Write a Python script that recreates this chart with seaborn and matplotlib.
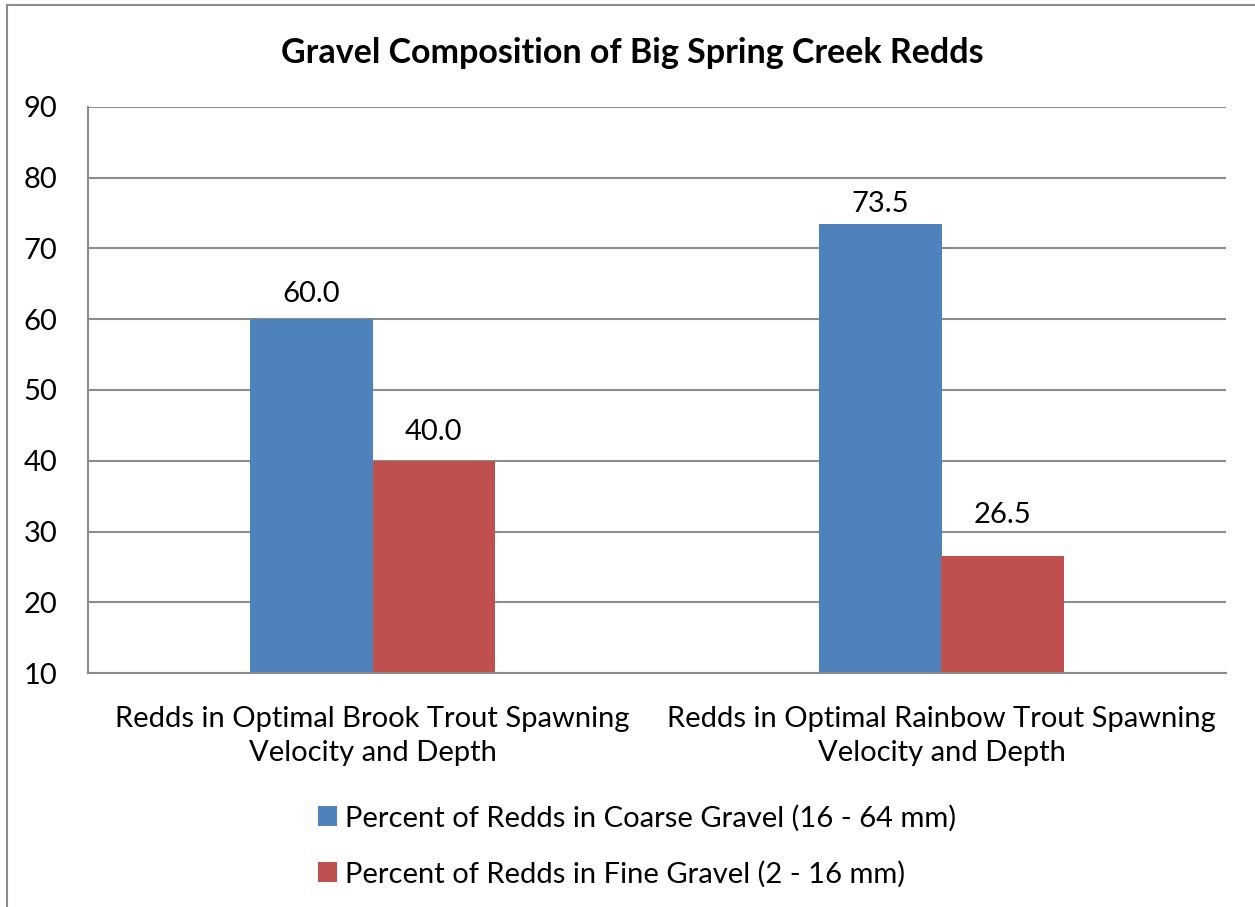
import matplotlib
matplotlib.use("Agg")
import matplotlib.pyplot as plt
import seaborn as sns
import pandas as pd
from matplotlib.patches import Patch
from matplotlib.lines import Line2D

categories = ["Redds in Optimal Brook Trout Spawning\nVelocity and Depth",
              "Redds in Optimal Rainbow Trout Spawning\nVelocity and Depth"]
series_names = ["Percent of Redds in Coarse Gravel (16 - 64 mm)",
                "Percent of Redds in Fine Gravel (2 - 16 mm)"]
coarse = [60.0, 73.5]
fine = [40.0, 26.5]
colors = ["#4F81BD", "#C0504D"]
title = "Gravel Composition of Big Spring Creek Redds"

df = pd.DataFrame({
    "category": categories * 2,
    "series": [series_names[0]] * 2 + [series_names[1]] * 2,
    "value": coarse + fine,
})

sns.set_theme(style="white")
plt.rcParams['font.family'] = ['Lato', 'DejaVu Sans']
plt.rcParams['text.color'] = 'black'
plt.rcParams['xtick.color'] = 'black'
plt.rcParams['ytick.color'] = 'black'
plt.rcParams['xtick.labelcolor'] = 'black'
plt.rcParams['ytick.labelcolor'] = 'black'

fig = plt.figure(figsize=(12.55, 9.07), dpi=100)
ax = fig.add_axes([88/1255, 1-673/907, (1226-88)/1255, (673-107)/907])

sns.barplot(data=df, x="category", y="value", hue="series", palette=colors,
            width=0.43, gap=0, ax=ax, legend=False, saturation=1,
            edgecolor="none", linewidth=0)

# bars start at the axis minimum (10)
for p in ax.patches:
    h = p.get_height()
    p.set_y(10)
    p.set_height(h - 10)

# label offsets (points) as placed in the original chart
label_pads = [[9, 5], [11, 20]]
for cont, vals, pads in zip(ax.containers, [coarse, fine], label_pads):
    for bar, v, pad in zip(cont.patches, vals, pads):
        ax.annotate(f"{v:.1f}", (bar.get_x() + bar.get_width() / 2, bar.get_y() + bar.get_height()),
                    xytext=(0, pad), textcoords="offset points", ha="center", va="bottom",
                    fontsize=21, color="black")

ax.set_ylim(10, 90)
ax.set_yticks(range(10, 91, 10))
ax.yaxis.grid(True, color="#8C8C8C", linewidth=1.5)
ax.set_axisbelow(True)
for s in ["top", "right"]:
    ax.spines[s].set_visible(False)
for s in ["left", "bottom"]:
    ax.spines[s].set_color("#8C8C8C")
    ax.spines[s].set_linewidth(1.5)
ax.tick_params(axis="y", length=0, pad=22, labelsize=21)
ax.tick_params(axis="x", length=0, pad=24, labelsize=21)
for t in ax.get_xticklabels():
    t.set_linespacing(1.37)
ax.set_xlabel("")
ax.set_ylabel("")

fig.text(632/1255, 1-53/907, title, ha="center", va="center", fontsize=24.5,
         fontweight="bold", color="black")

handles = [Patch(facecolor=c, edgecolor="none") for c in colors]
fig.legend(handles, series_names, loc="center", bbox_to_anchor=(637/1255, 1-846/907),
           frameon=False, fontsize=21, handlelength=0.65, handleheight=0.65,
           handletextpad=0.3, labelspacing=1.0)

# outer chart frame (top and left edges)
fig.add_artist(Line2D([7/1255, 1.0], [1-5/907, 1-5/907], transform=fig.transFigure, color="#8C8C8C", linewidth=1.5))
fig.add_artist(Line2D([7/1255, 7/1255], [0.0, 1-5/907], transform=fig.transFigure, color="#8C8C8C", linewidth=1.5))

fig.savefig("out.png", dpi=100)
